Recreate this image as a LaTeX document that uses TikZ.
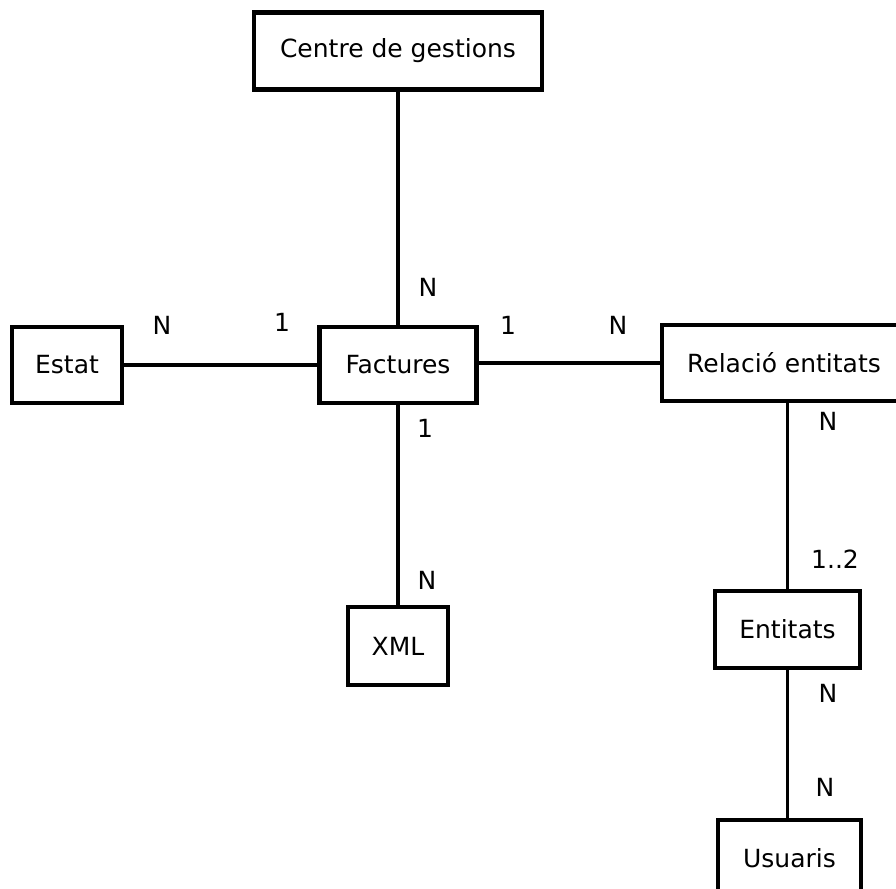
\documentclass[tikz,border=0pt]{standalone}
\usepackage{fontspec}
\setmainfont{DejaVu Sans}
\begin{document}
\begin{tikzpicture}[x=1pt,y=-1pt,
  entity/.style={draw=black,line width=4.5pt,fill=white,inner sep=0pt,font=\fontsize{25}{30}\selectfont},
  conn/.style={draw=black,line width=3.5pt},
  card/.style={inner sep=0pt,font=\fontsize{25}{30}\selectfont}]
\useasboundingbox (0,0) rectangle (896,888);
\begin{scope}
\clip (0,0) rectangle (896,888);
\node[entity,minimum width=288pt,minimum height=77pt] (centre) at (398,51) {Centre de gestions};
\node[entity,minimum width=110pt,minimum height=76pt] (estat) at (67,365) {Estat};
\node[entity,minimum width=157pt,minimum height=76pt] (fact) at (398,365) {Factures};
\node[entity,minimum width=238pt,minimum height=76pt] (rel) at (781,363) {\hspace*{6pt}Relació entitats};
\node[entity,minimum width=100pt,minimum height=78pt] (xml) at (398,646) {XML};
\node[entity,minimum width=145pt,minimum height=77pt] (ent) at (787.5,629.5) {Entitats};
\node[entity,minimum width=143pt,minimum height=76pt] (usu) at (789.5,858) {Usuaris};
\end{scope}
\draw[conn] (centre.south) -- (fact.north);
\draw[conn] (estat.east) -- (fact.west);
\draw[conn] (fact.east |- rel.west) -- (rel.west);
\draw[conn] (fact.south) -- (xml.north);
\draw[conn] (ent.north |- rel.south) -- (ent.north);
\draw[conn] (ent.south) -- (ent.south |- usu.north);
% cardinalities
\node[card] (c1) at (428,287) {N};
\node[card] (c2) at (162,325) {N};
\node[card] (c3) at (282,322) {1};
\node[card] (c4) at (508,325) {1};
\node[card] (c5) at (618,325) {N};
\node[card] (c6) at (425,428) {1};
\node[card] (c7) at (427,580) {N};
\node[card] (c8) at (828,421) {N};
\node[card] (c9) at (835,559) {1..2};
\node[card] (c10) at (828,693) {N};
\node[card] (c11) at (825,787) {N};
\end{tikzpicture}
\end{document}
